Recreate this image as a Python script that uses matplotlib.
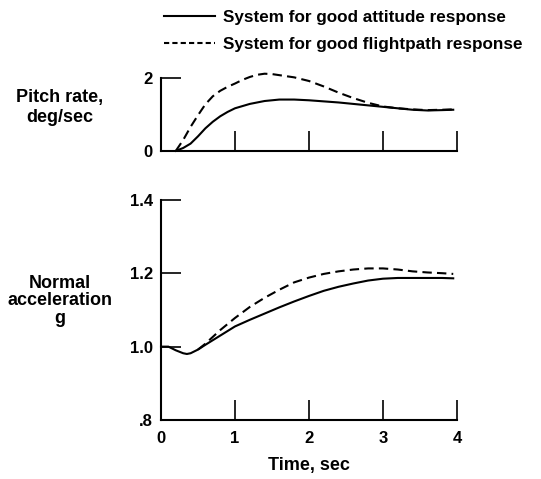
"""
pitch rate and normal acceleration step responses, two control systems
"""
import matplotlib
matplotlib.use("Agg")
import matplotlib.pyplot as plt
from matplotlib.lines import Line2D

plt.rcParams["font.family"] = "sans-serif"
plt.rcParams["font.sans-serif"] = ["Liberation Sans", "DejaVu Sans"]
plt.rcParams["font.weight"] = "bold"

# pitch rate, deg/sec
t_q_att = [0.2, 0.3, 0.4, 0.5, 0.6, 0.7, 0.8, 0.9, 1.0, 1.2, 1.4, 1.6, 1.8, 2.0,
           2.2, 2.4, 2.6, 2.8, 3.0, 3.2, 3.4, 3.6, 3.8, 3.95]
q_att = [0.0, 0.08, 0.2, 0.4, 0.62, 0.8, 0.95, 1.07, 1.17, 1.29, 1.37, 1.41, 1.41, 1.39,
         1.36, 1.33, 1.29, 1.25, 1.21, 1.17, 1.13, 1.11, 1.12, 1.13]
t_q_fp = [0.2, 0.3, 0.4, 0.5, 0.6, 0.7, 0.8, 0.9, 1.0, 1.1, 1.2, 1.3, 1.4, 1.5, 1.6,
          1.8, 2.0, 2.2, 2.4, 2.6, 2.8, 3.0, 3.2, 3.4, 3.6, 3.8, 3.95]
q_fp = [0.0, 0.3, 0.66, 0.98, 1.28, 1.5, 1.65, 1.76, 1.85, 1.95, 2.03, 2.09, 2.12, 2.11, 2.08,
        2.02, 1.92, 1.77, 1.6, 1.45, 1.32, 1.22, 1.17, 1.14, 1.12, 1.13, 1.14]

# normal acceleration, g
t_n_att = [0.0, 0.1, 0.2, 0.3, 0.35, 0.4, 0.5, 0.6, 0.8, 1.0, 1.2, 1.4, 1.6, 1.8, 2.0,
           2.2, 2.4, 2.6, 2.8, 3.0, 3.2, 3.4, 3.6, 3.8, 3.95]
n_att = [1.0, 1.0, 0.99, 0.982, 0.98, 0.982, 0.992, 1.005, 1.03, 1.055, 1.073, 1.09, 1.107,
         1.123, 1.138, 1.152, 1.163, 1.172, 1.18, 1.185, 1.187, 1.187, 1.187, 1.187, 1.186]
t_n_fp = [0.5, 0.6, 0.8, 1.0, 1.2, 1.4, 1.6, 1.8, 2.0, 2.2, 2.4, 2.6, 2.8, 3.0, 3.2,
          3.4, 3.6, 3.8, 3.95]
n_fp = [0.992, 1.008, 1.045, 1.078, 1.108, 1.133, 1.155, 1.175, 1.188, 1.198, 1.205, 1.21,
        1.213, 1.213, 1.21, 1.205, 1.202, 1.2, 1.198]

LABELS = ["System for good attitude response", "System for good flightpath response"]
LW = 1.5
DASHES = (4.5, 2.5)
TICK_LEN = 14.5

fig = plt.figure(figsize=(5.41, 4.79), dpi=100)
ax1 = fig.add_axes([0.2976, 0.685, 0.547, 0.152])
ax2 = fig.add_axes([0.2976, 0.123, 0.547, 0.46])

ax1.plot(t_q_att, q_att, color="black", lw=LW, clip_on=False)
ax1.plot(t_q_fp, q_fp, color="black", lw=LW, dashes=DASHES, clip_on=False)
ax2.plot(t_n_att, n_att, color="black", lw=LW, clip_on=False)
ax2.plot(t_n_fp, n_fp, color="black", lw=LW, dashes=DASHES, clip_on=False)

ax1.set_ylim(0, 2)
ax1.set_yticks([0, 2])
ax1.set_yticklabels(["0", "2"])
ax2.set_ylim(0.8, 1.4)
ax2.set_yticks([0.8, 1.0, 1.2, 1.4])
ax2.set_yticklabels([".8", "1.0", "1.2", "1.4"])

for ax in (ax1, ax2):
    ax.set_xlim(0, 4)
    ax.set_xticks([0, 1, 2, 3, 4])
    ax.spines["top"].set_visible(False)
    ax.spines["right"].set_visible(False)
    ax.spines["left"].set_linewidth(1.5)
    ax.spines["bottom"].set_linewidth(1.5)
    ax.tick_params(direction="in", length=TICK_LEN, width=1.2, labelsize=12, pad=6)
    ax.patch.set_alpha(0)
    for lab in ax.get_xticklabels() + ax.get_yticklabels():
        lab.set_fontweight("bold")

ax1.tick_params(axis="x", labelbottom=False)
ax2.tick_params(axis="x", pad=8)
ax2.set_xlabel("Time, sec", fontsize=13, fontweight="bold", labelpad=8)

fig.text(0.111, 0.775, "Pitch rate,\ndeg/sec", ha="center", va="center",
         fontsize=13, fontweight="bold", linespacing=1.2)
fig.text(0.111, 0.372, "Normal\nacceleration\ng", ha="center", va="center",
         fontsize=13, fontweight="bold", linespacing=1.05)

handles = [Line2D([], [], color="black", lw=LW),
           Line2D([], [], color="black", lw=LW, dashes=(2.5, 1.5))]
fig.legend(handles, LABELS, loc="upper left", bbox_to_anchor=(0.274, 1.012),
           frameon=False, handlelength=3.0, handletextpad=0.5, labelspacing=0.75,
           prop={"size": 12.3, "weight": "bold"})

plt.savefig("out.png", dpi=100)
plt.close()
